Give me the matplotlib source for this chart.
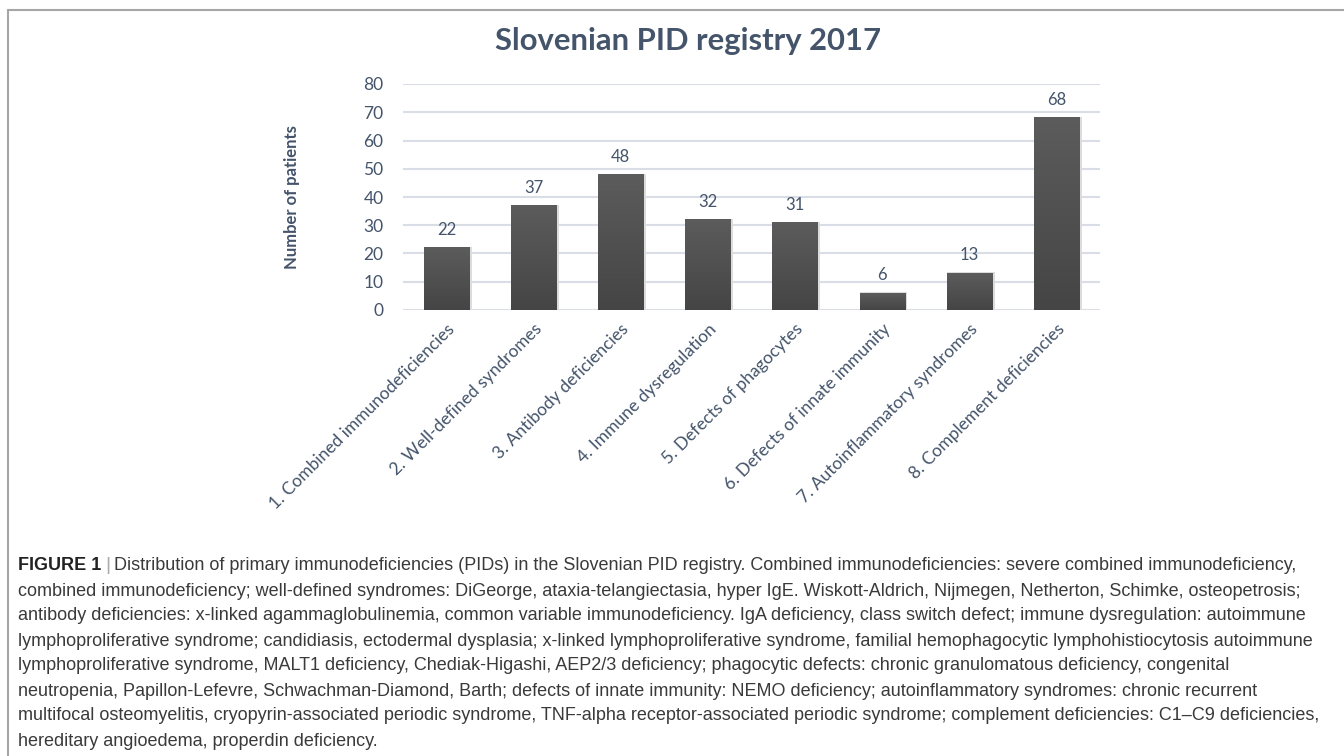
import numpy as np
import matplotlib
matplotlib.use("Agg")
import matplotlib.pyplot as plt
from matplotlib.patches import Rectangle

categories = [
    "1. Combined immunodeficiencies",
    "2. Well-defined syndromes",
    "3. Antibody deficiencies",
    "4. Immune dysregulation",
    "5. Defects of phagocytes",
    "6. Defects of innate immunity",
    "7. Autoinflammatory syndromes",
    "8. Complement deficiencies",
]
patients = [22, 37, 48, 32, 31, 6, 13, 68]
yticks = [0, 10, 20, 30, 40, 50, 60, 70, 80]

title = "Slovenian PID registry 2017"
ylabel = "Number of patients"
caption_head = "FIGURE 1"
caption_lines = [
    "Distribution of primary immunodeficiencies (PIDs) in the Slovenian PID registry. Combined immunodeficiencies: severe combined immunodeficiency,",
    "combined immunodeficiency; well-defined syndromes: DiGeorge, ataxia-telangiectasia, hyper IgE. Wiskott-Aldrich, Nijmegen, Netherton, Schimke, osteopetrosis;",
    "antibody deficiencies: x-linked agammaglobulinemia, common variable immunodeficiency. IgA deficiency, class switch defect; immune dysregulation: autoimmune",
    "lymphoproliferative syndrome; candidiasis, ectodermal dysplasia; x-linked lymphoproliferative syndrome, familial hemophagocytic lymphohistiocytosis autoimmune",
    "lymphoproliferative syndrome, MALT1 deficiency, Chediak-Higashi, AEP2/3 deficiency; phagocytic defects: chronic granulomatous deficiency, congenital",
    "neutropenia, Papillon-Lefevre, Schwachman-Diamond, Barth; defects of innate immunity: NEMO deficiency; autoinflammatory syndromes: chronic recurrent",
    "multifocal osteomyelitis, cryopyrin-associated periodic syndrome, TNF-alpha receptor-associated periodic syndrome; complement deficiencies: C1\u2013C9 deficiencies,",
    "hereditary angioedema, properdin deficiency.",
]

text_col = "#44546A"
chart_font = ["Lato", "DejaVu Sans"]
cap_font = ["Liberation Sans", "DejaVu Sans"]

fig = plt.figure(figsize=(13.44, 7.56), dpi=100)
W, H = 1344, 756

# frame around chart
fig.patches.append(Rectangle((8 / W, -0.1), 1.2, 1 - 10 / H + 0.1,
                             transform=fig.transFigure, fill=False,
                             edgecolor="#a6a6a6", linewidth=1.5))

ax = fig.add_axes([403 / W, 1 - 310 / H, 697 / W, 226 / H])
x = np.arange(len(categories))

grad = np.linspace(0.36, 0.27, 100).reshape(-1, 1)
bw = 0.52
for xi, v in zip(x, patients):
    # soft shadow
    ax.bar(xi + 0.015, v + 0.3, width=bw + 0.03, color="#dcdcdc", zorder=2)
    ax.imshow(np.dstack([grad, grad, grad]), extent=[xi - bw / 2, xi + bw / 2, 0, v],
              aspect="auto", origin="upper", zorder=3)
    ax.text(xi, v + 3.5, str(v), ha="center", va="bottom", fontsize=12,
            color=text_col, family=chart_font)
ax.set_xlim(-0.5, len(categories) - 0.5)
ax.set_ylim(0, 80)

ax.set_yticks(yticks)
ax.yaxis.grid(True, color="#d9dee6", linewidth=1.5, zorder=0)
ax.set_axisbelow(True)
for s in ax.spines.values():
    s.set_visible(False)
ax.tick_params(axis="both", length=0, labelsize=12.5, labelcolor=text_col)
for lab in ax.get_yticklabels():
    lab.set_family(chart_font)
ax.tick_params(axis="y", pad=14)
ax.set_xticks(x)
ax.set_xticklabels(categories, rotation=45, ha="right", rotation_mode="anchor",
                   family=chart_font, fontsize=12.5)
ax.tick_params(axis="x", pad=8)

ax.set_ylabel(ylabel, fontsize=12, fontweight="bold", color=text_col,
              family=chart_font, labelpad=46)

fig.text(688 / W, 1 - 41 / H, title, ha="center", va="center", fontsize=22.3,
         fontweight="bold", color=text_col, family=chart_font)

# caption
cap_col = "#3a3a3a"
cap_size = 13.0
y0 = 1 - 566 / H
step = 25 / H
head = fig.text(18 / W, y0, caption_head, fontsize=cap_size, fontweight="bold",
                color="#222222", family=cap_font, va="center")
fig.canvas.draw()
r = fig.canvas.get_renderer()
bb = head.get_window_extent(r)
bar = fig.text(bb.x1 / W + 4 / W, y0, "|", fontsize=cap_size + 1, color="#aaaaaa",
               family=cap_font, va="center")
bb2 = bar.get_window_extent(r)
fig.text(bb2.x1 / W + 4 / W, y0, caption_lines[0], fontsize=cap_size, color=cap_col,
         family=cap_font, va="center")
for i, line in enumerate(caption_lines[1:], start=1):
    fig.text(18 / W, y0 - i * step, line, fontsize=cap_size, color=cap_col,
             family=cap_font, va="center")

fig.savefig("out.png", dpi=100)
